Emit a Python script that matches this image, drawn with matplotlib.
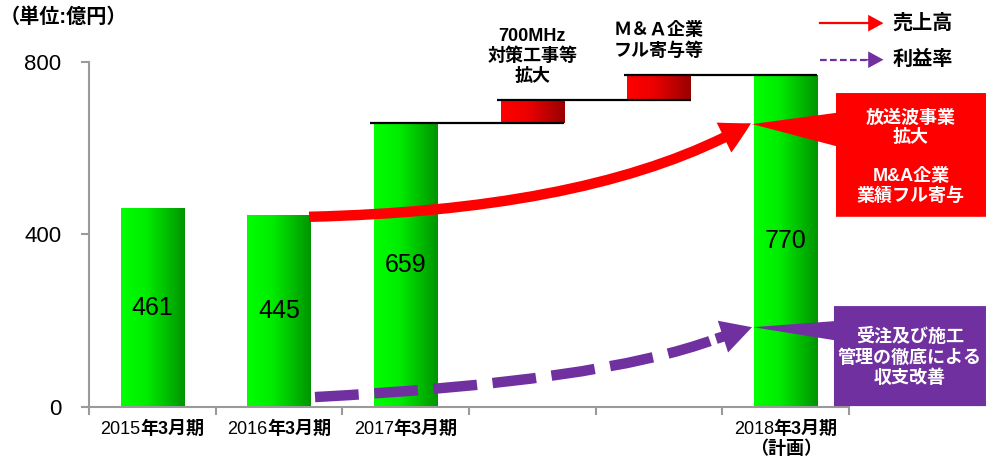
import numpy as np
import matplotlib
matplotlib.use('Agg')
import matplotlib.pyplot as plt
from matplotlib.colors import LinearSegmentedColormap
from matplotlib.patches import FancyArrowPatch, Polygon, PathPatch
from matplotlib.path import Path
from matplotlib.lines import Line2D
from matplotlib.offsetbox import TextArea, HPacker, VPacker, AnnotationBbox

plt.rcParams['font.family'] = ['Liberation Sans', 'Noto Sans CJK JP', 'DejaVu Sans']

# sales (億円) per fiscal year
categories = ['2015年3月期', '2016年3月期', '2017年3月期', '', '', '2018年3月期\n（計画）']
bar_pos = [0, 1, 2, 5]
bar_vals = [461, 445, 659, 770]

# bridge from FY2017 to the FY2018 plan
step_pos = [3, 4]
step_from = [659, 712]
step_to = [712, 770]
step_notes = ['700MHz\n対策工事等\n拡大', 'Ｍ＆Ａ企業\nフル寄与等']

yticks = [0, 400, 800]

GREEN = LinearSegmentedColormap.from_list('bar_g', [(0, '#00ff00'), (0.4, '#00ec00'), (1, '#009400')])
RED = LinearSegmentedColormap.from_list('bar_r', [(0, '#ff0000'), (0.4, '#ee0000'), (1, '#990000')])
PURPLE = '#7030a0'
AXIS_GREY = '#9a9a9a'
GRAD = np.linspace(0, 1, 256).reshape(1, -1)

fig = plt.figure(figsize=(9.86, 4.63), dpi=100)
ax = fig.add_axes([0.0903, 0.121, 0.7708, 0.7451])


def gradient_bars(x, height, bottom, cmap):
    bars = ax.bar(x, height, width=0.5, bottom=bottom, color='none',
                  edgecolor='none', zorder=2)
    for b in bars:
        x0, y0 = b.get_x(), b.get_y()
        im = ax.imshow(GRAD, cmap=cmap, aspect='auto', zorder=2,
                       extent=[x0, x0 + b.get_width(), y0, y0 + b.get_height()])
        im.set_clip_path(b)
    return bars


gradient_bars(bar_pos, bar_vals, 0, GREEN)
gradient_bars(step_pos, np.subtract(step_to, step_from), step_from, RED)

for x, v in zip(bar_pos, bar_vals):
    ax.text(x, v / 2, str(v), ha='center', va='center', fontsize=18, zorder=4)

# connector lines across the bridge
chain = [bar_pos[2]] + step_pos + [bar_pos[3]]
levels = step_from + [step_to[-1]]
for k, lvl in enumerate(levels):
    ax.hlines(lvl, chain[k] - 0.28, chain[k + 1] + 0.25, color='black', lw=1.6, zorder=3)

for x, top, note in zip(step_pos, step_to, step_notes):
    ax.annotate(note, (x, top), xytext=(0, 11), textcoords='offset points',
                ha='center', va='bottom', fontsize=13, fontweight='bold',
                linespacing=1.2, annotation_clip=False)

ax.set_xlim(-0.5, 5.5)
ax.set_ylim(0, 800)

# category labels: year in regular weight, the rest bold
ax.set_xticks(range(len(categories)))
ax.set_xticklabels([])
for x, cat in enumerate(categories):
    if not cat:
        continue
    lines = cat.split('\n')
    first = HPacker(children=[TextArea(lines[0][:4], textprops=dict(fontsize=13)),
                              TextArea(lines[0][4:], textprops=dict(fontsize=13, fontweight='bold'))],
                    pad=0, sep=0, align='baseline')
    rows = [first] + [TextArea(l, textprops=dict(fontsize=13, fontweight='bold')) for l in lines[1:]]
    box = VPacker(children=rows, pad=0, sep=2, align='center')
    ax.add_artist(AnnotationBbox(box, (x, 0), xybox=(0, -10), boxcoords='offset points',
                                 box_alignment=(0.5, 1), frameon=False, pad=0,
                                 annotation_clip=False))

ax.set_xticks(np.arange(-0.5, 6, 1), minor=True)
ax.tick_params(axis='x', which='major', length=0)
ax.tick_params(axis='x', which='minor', length=6, width=1.5, color=AXIS_GREY)
ax.set_yticks(yticks)
ax.tick_params(axis='y', length=6, width=1.5, color=AXIS_GREY, labelsize=16, pad=14)
for s in ('top', 'right'):
    ax.spines[s].set_visible(False)
for s in ('left', 'bottom'):
    ax.spines[s].set_color(AXIS_GREY)
    ax.spines[s].set_linewidth(1.5)

# trend arrows: sales (solid red) and margin (dashed purple)
sales_curve = Path([(1.237, 441), (3.534, 457), (4.726, 658)],
                   [Path.MOVETO, Path.CURVE3, Path.CURVE3])
ax.add_patch(FancyArrowPatch(path=sales_curve, color='red', lw=0, zorder=5,
                             arrowstyle='simple,head_length=2.2,head_width=2.4,tail_width=0.75',
                             mutation_scale=10, clip_on=False))

margin_pts = [(1.284, 23), (3.534, 58), (4.734, 185)]
margin_curve = Path([margin_pts[0], margin_pts[1], (4.45, 158)],
                    [Path.MOVETO, Path.CURVE3, Path.CURVE3])
ax.add_patch(PathPatch(margin_curve, fill=False, edgecolor=PURPLE, lw=7.5,
                       linestyle=(0, (4.2, 1.5)), capstyle='butt', zorder=5))
ax.add_patch(FancyArrowPatch((4.45, 158), margin_pts[2], color=PURPLE, lw=0, zorder=5,
                             arrowstyle='simple,head_length=2.2,head_width=2.4,tail_width=0.75',
                             mutation_scale=10, shrinkA=0, shrinkB=0, clip_on=False))

# callout boxes at the right edge
red_box = [(4.734, 656), (5.397, 682), (5.397, 728), (6.581, 728),
           (6.581, 441), (5.397, 441), (5.397, 605)]
ax.add_patch(Polygon(red_box, closed=True, facecolor='red', edgecolor='none',
                     zorder=6, clip_on=False))
ax.text(5.989, 647, '放送波事業\n拡大', ha='center', va='center', color='white',
        fontsize=13, fontweight='bold', linespacing=1.15, zorder=7)
ax.text(5.989, 511, 'M&A企業\n業績フル寄与', ha='center', va='center', color='white',
        fontsize=13, fontweight='bold', linespacing=1.15, zorder=7)

purple_box = [(4.742, 185), (5.381, 199), (5.381, 234), (6.581, 234),
              (6.581, 2), (5.381, 2), (5.381, 155)]
ax.add_patch(Polygon(purple_box, closed=True, facecolor=PURPLE, edgecolor='none',
                     zorder=6, clip_on=False))
ax.text(5.981, 115, '受注及び施工\n管理の徹底による\n収支改善', ha='center', va='center',
        color='white', fontsize=13, fontweight='bold', linespacing=1.25, zorder=7)

fig.text(0.0, 0.962, '（単位:億円）', ha='left', va='center', fontsize=14.5, fontweight='bold')


# legend drawn by hand in figure coordinates
def legend_entry(y, color, dashed, label):
    fig.add_artist(Line2D([0.832, 0.88], [y, y], transform=fig.transFigure, color=color,
                          lw=1.6, linestyle=(0, (3, 1.5)) if dashed else '-'))
    fig.add_artist(FancyArrowPatch((0.875, y), (0.896, y), transform=fig.transFigure,
                                   color=color, lw=0, shrinkA=0, shrinkB=0,
                                   arrowstyle='simple,head_length=1.1,head_width=1.2,tail_width=0.1',
                                   mutation_scale=10))
    fig.text(0.905, y, label, ha='left', va='center', fontsize=14.5, fontweight='bold')


legend_entry(0.950, 'red', False, '売上高')
legend_entry(0.871, PURPLE, True, '利益率')

fig.savefig('out.png', dpi=100)
